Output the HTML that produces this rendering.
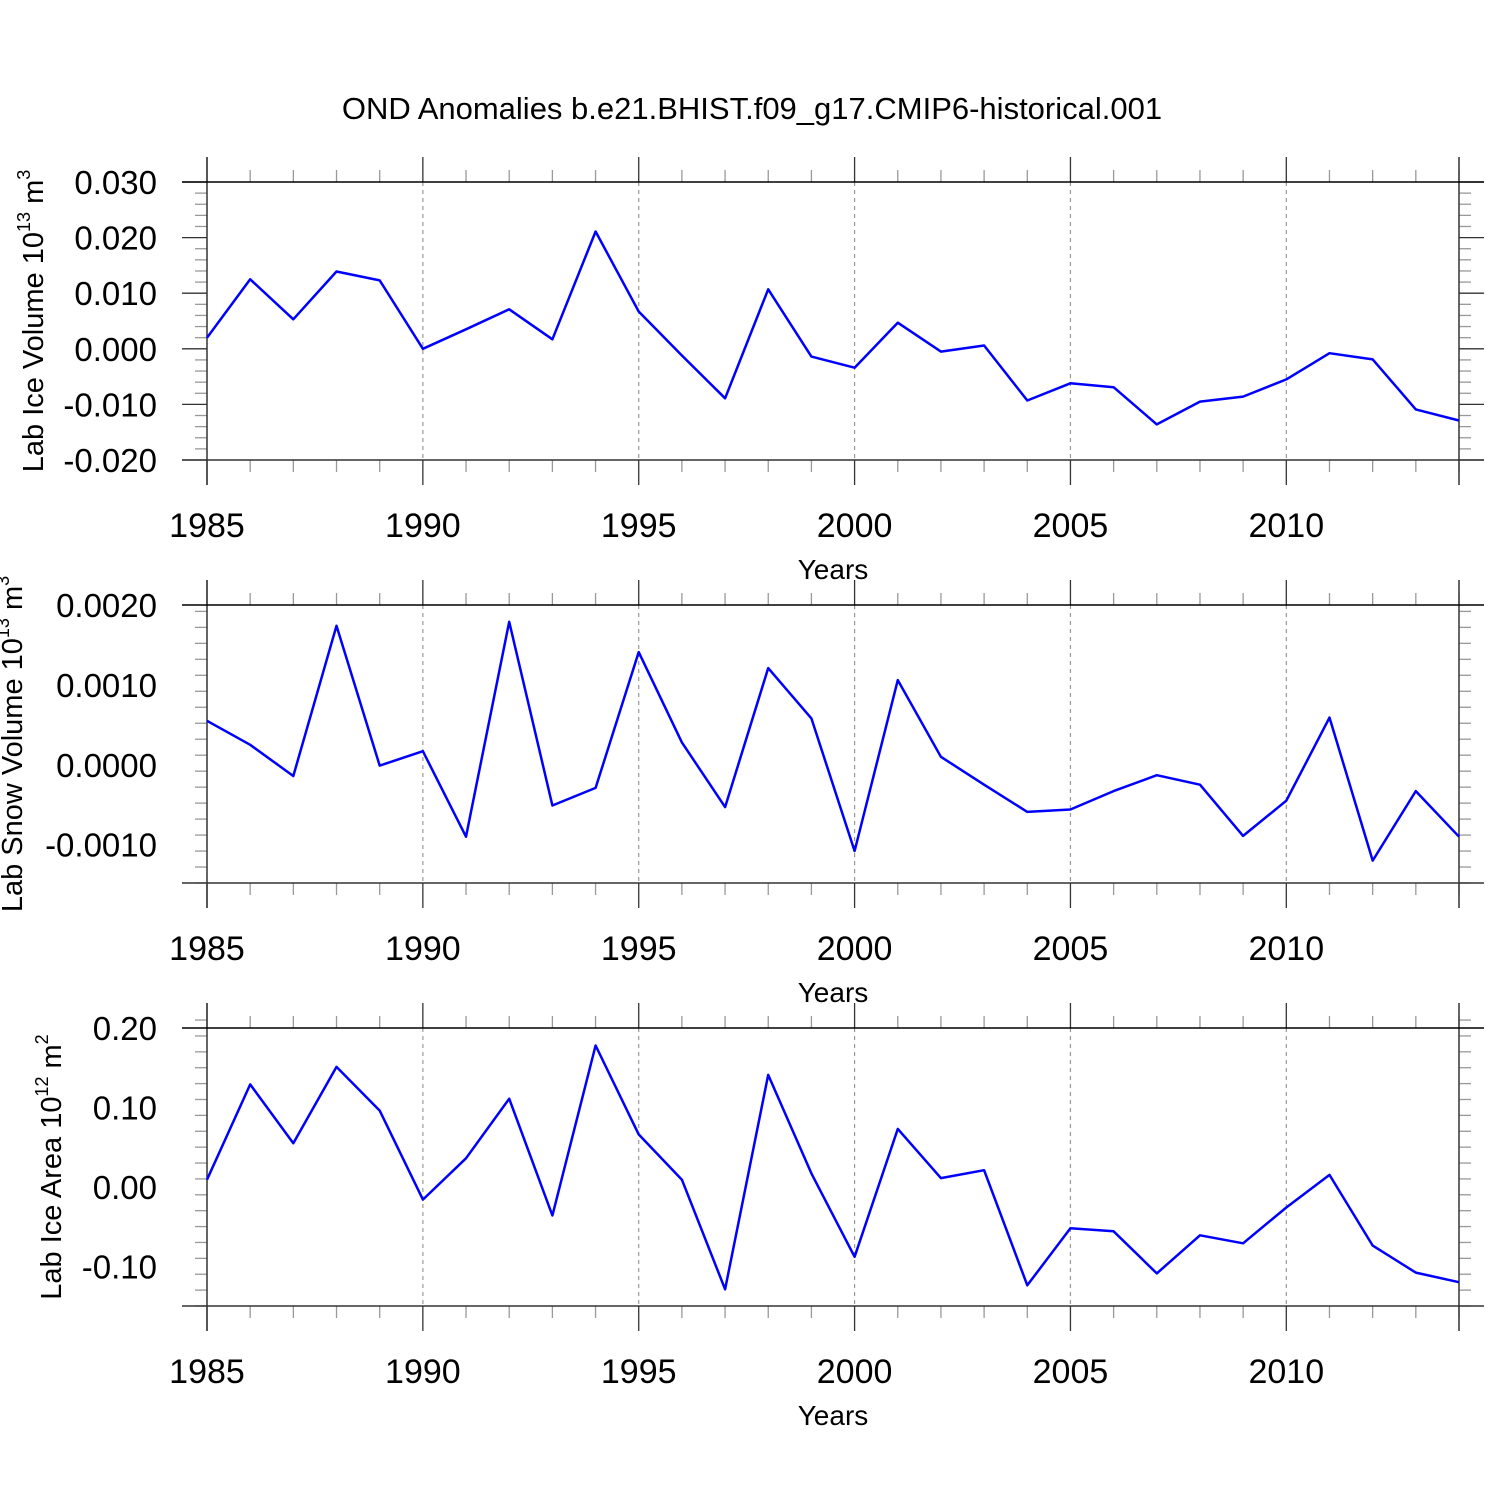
<!DOCTYPE html>
<html><head><meta charset="utf-8"><style>
body{margin:0;background:#fff}
svg{display:block;font-family:"Liberation Sans",sans-serif}
</style></head><body>
<svg id="chart" width="1500" height="1500">
<text x="752" y="119" font-size="31" text-anchor="middle">OND Anomalies b.e21.BHIST.f09_g17.CMIP6-historical.001</text>
</svg>
<script>
const years = [1985,1986,1987,1988,1989,1990,1991,1992,1993,1994,1995,1996,1997,1998,1999,2000,2001,2002,2003,2004,2005,2006,2007,2008,2009,2010,2011,2012,2013,2014];
const xTickLabels = [1985,1990,1995,2000,2005,2010];
const iceVolume = [0.0020,0.0125,0.0053,0.0139,0.0123,0.0,0.0035,0.0071,0.0017,0.0211,0.0067,-0.0012,-0.0089,0.0107,-0.0014,-0.0034,0.0047,-0.0005,0.0006,-0.0093,-0.0062,-0.0069,-0.0136,-0.0095,-0.0086,-0.0055,-0.0008,-0.0019,-0.0109,-0.0129];
const snowVolume = [0.00055,0.00025,-0.00014,0.00174,-0.00001,0.00017,-0.0009,0.00179,-0.00051,-0.00029,0.00141,0.00028,-0.00053,0.00121,0.00058,-0.00108,0.00106,0.0001,-0.00025,-0.00059,-0.00056,-0.00033,-0.00013,-0.00025,-0.00089,-0.00045,0.00059,-0.0012,-0.00033,-0.0009];
const iceArea = [0.009,0.129,0.055,0.151,0.096,-0.016,0.036,0.111,-0.036,0.178,0.066,0.009,-0.129,0.141,0.017,-0.088,0.073,0.011,0.021,-0.124,-0.052,-0.056,-0.109,-0.061,-0.071,-0.026,0.015,-0.074,-0.108,-0.12];
const ticks1 = ["0.030","0.020","0.010","0.000","-0.010","-0.020"];
const ticks2 = ["0.0020","0.0010","0.0000","-0.0010"];
const ticks3 = ["0.20","0.10","0.00","-0.10"];

const NS="http://www.w3.org/2000/svg";
const svg=document.getElementById('chart');
function mk(tag,attrs,parent){const e=document.createElementNS(NS,tag);for(const k in attrs)e.setAttribute(k,attrs[k]);(parent||svg).appendChild(e);return e;}
const X0=207,X1=1459;
function xs(y){return X0+(y-1985)/(2014-1985)*(X1-X0);}

function panel(name,top,ymin,ymax,major,minor,labels,data,title,sup,unit,titleX){
  const bot=top+278;
  const g=mk('g',{});
  
  
  const ys=v=>bot-(v-ymin)/(ymax-ymin)*(bot-top);
  xTickLabels.forEach(y=>{if(y>1985){const l=mk('line',{x1:xs(y),x2:xs(y),y1:top,y2:bot,stroke:'#999','stroke-width':1.2,'stroke-dasharray':'4,4'},g);
    }});
  years.forEach(y=>{const isMaj=(y%5===0);const len=isMaj?25:12;const c=isMaj?'#333':'#999';
    mk('line',{x1:xs(y),x2:xs(y),y1:top-len,y2:top,stroke:c,'stroke-width':1.3},g);
    mk('line',{x1:xs(y),x2:xs(y),y1:bot,y2:bot+len,stroke:c,'stroke-width':1.3},g);});
  const nMin=Math.round((ymax-ymin)/minor);
  for(let i=0;i<=nMin;i++){const v=ymin+i*minor;const r=v/major;const isMaj=Math.abs(r-Math.round(r))<1e-6;
    const len=isMaj?25:12;const c=isMaj?'#333':'#999';
    mk('line',{x1:X0-len,x2:X0,y1:ys(v),y2:ys(v),stroke:c,'stroke-width':1.3},g);
    mk('line',{x1:X1,x2:X1+len,y1:ys(v),y2:ys(v),stroke:c,'stroke-width':1.3},g);}
  mk('line',{x1:X0,x2:X0,y1:top-25,y2:bot+25,stroke:'#333','stroke-width':1.5},g);
  mk('line',{x1:X1,x2:X1,y1:top-25,y2:bot+25,stroke:'#333','stroke-width':1.5},g);
  mk('line',{x1:X0-25,x2:X1+25,y1:top,y2:top,stroke:'#000','stroke-width':1.5},g);
  mk('line',{x1:X0-25,x2:X1+25,y1:bot,y2:bot,stroke:'#333','stroke-width':1.5},g);
  labels.forEach(s=>{const t=mk('text',{x:157,y:ys(parseFloat(s))+12,'font-size':33,'text-anchor':'end'},g);t.textContent=s;
    });
  xTickLabels.forEach(y=>{const t=mk('text',{x:xs(y),y:bot+77,'font-size':34,'text-anchor':'middle'},g);t.textContent=y;
    });
  const xt=mk('text',{x:833,y:bot+119,'font-size':28,'text-anchor':'middle'},g);xt.textContent='Years';
  
  const cy=(top+bot)/2;
  const yt=mk('text',{x:0,y:0,'font-size':29,'text-anchor':'middle',transform:`translate(${titleX},${cy}) rotate(-90)`},g);
  
  const a=mk('tspan',{},yt);a.textContent=title+' 10';
  const b=mk('tspan',{'font-size':18,dy:-13},yt);b.textContent=sup;
  const c=mk('tspan',{dy:13},yt);c.textContent=' m';
  const d=mk('tspan',{'font-size':18,dy:-13},yt);d.textContent=unit;
  const pts=data.map((v,i)=>xs(years[i]).toFixed(1)+','+ys(v).toFixed(1)).join(' ');
  const pl=mk('polyline',{points:pts,fill:'none',stroke:'#0000ff','stroke-width':2.5,'stroke-linejoin':'round'},g);
  
}
panel('panel-ice-volume',182,-0.020,0.030,0.010,0.002,ticks1,iceVolume,'Lab Ice Volume','13','3',43);
panel('panel-snow-volume',605,-0.00148,0.00200,0.0010,0.0002,ticks2,snowVolume,'Lab Snow Volume','13','3',22);
panel('panel-ice-area',1028,-0.15,0.20,0.10,0.02,ticks3,iceArea,'Lab Ice Area','12','2',61);
</script>
</body></html>
